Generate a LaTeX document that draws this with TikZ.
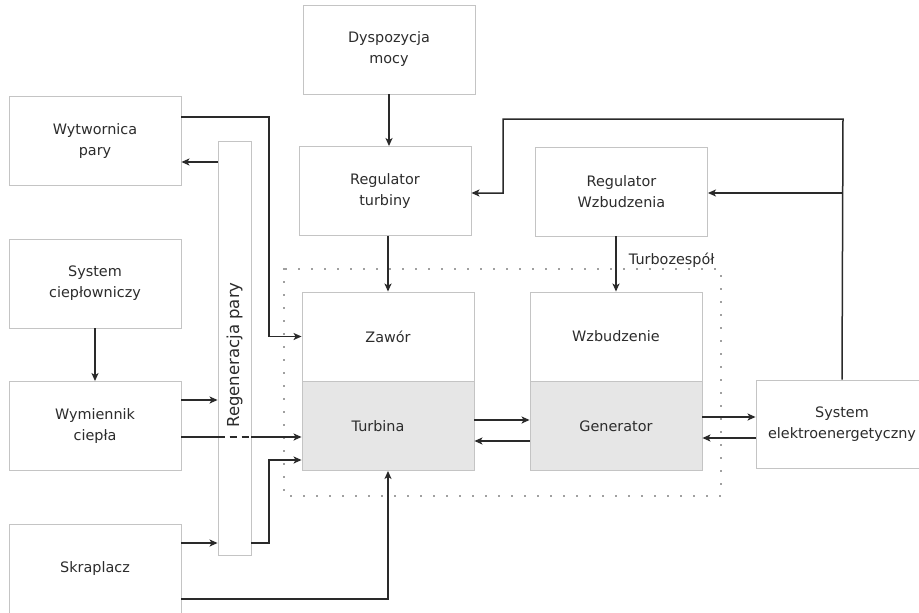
\documentclass[tikz,border=0pt]{standalone}
\usepackage{fontspec}
\setmainfont{DejaVu Sans}
\usetikzlibrary{arrows.meta}
\definecolor{edgegray}{HTML}{C4C4C4}
\definecolor{fillgray}{HTML}{E6E6E6}
\definecolor{linegray}{HTML}{2A2A2A}
\definecolor{textgray}{HTML}{2C2C2C}
\definecolor{dotgray}{HTML}{404040}
\begin{document}
\begin{tikzpicture}[x=1pt,y=-1pt,
  box/.style={draw=edgegray,line width=0.9pt,fill=white,inner sep=0pt,
    align=center,text=textgray,font=\fontsize{14.4}{21}\selectfont,
    minimum width=172pt,minimum height=89pt},
  graybox/.style={box,fill=fillgray},
  conn/.style={draw=linegray,line width=1.5pt},
  arr/.style={conn,-{Stealth[length=8pt,width=7pt,inset=2pt]}},
  groupframe/.style={draw=dotgray,line width=1.7pt,line cap=round,
    dash pattern=on 0pt off 13pt}]
\useasboundingbox (0,0) rectangle (919,613);
\fill[white] (0,0) rectangle (919,613);

% boxes on the left
\node[box] (wyt)    at (95,141)   {Wytwornica\\pary};
\node[box] (cieplo) at (95,283.5) {System\\ciepłowniczy};
\node[box] (wym)    at (95,426)   {Wymiennik\\ciepła};
\node[box] (skr)    at (95,568.5) {Skraplacz};
\node[box,minimum width=33pt,minimum height=414pt,
  label={[rotate=90,text=textgray,font=\fontsize{16.5}{20}\selectfont,
  xshift=-7pt]center:Regeneracja pary}] (regen) at (234.5,348) {};

% control layer
\node[box] (dysp) at (389,49.5)  {Dyspozycja\\mocy};
\node[box] (regt) at (385,191)   {Regulator\\turbiny};
\node[box] (regw) at (621.5,191.5) {Regulator\\Wzbudzenia};

% turbine set frame
\draw[groupframe] (284,269) rectangle (721,496);
\node[anchor=base east,text=textgray,font=\fontsize{14.4}{21}\selectfont]
  (tz) at (718,264) {Turbozespół};

\node[box] (zawor) at (388,336.5) {Zawór};
\node[graybox] (turb) at (388,426) {\hspace*{-20pt}Turbina};
\node[box] (wzb) at (616,336.5) {Wzbudzenie};
\node[graybox] (gen) at (616,426) {Generator};

\node[box,minimum height=88pt] (sys) at (842,424) {System\\elektroenergetyczny};

% helper levels
\coordinate (bendA) at (269,117);
\coordinate (y162) at (0,162);
\coordinate (y400) at (0,400);
\coordinate (y437) at (0,437);
\coordinate (y543) at (0,543);
\coordinate (y460) at (0,460);
\coordinate (y599) at (0,599);
\coordinate (x269) at (269,0);
\coordinate (y420) at (0,420);
\coordinate (y441) at (0,441);
\coordinate (y417) at (0,417);
\coordinate (y438) at (0,438);
\coordinate (fbTop) at (843,119);
\coordinate (fbLeft) at (503,119);
\coordinate (fbJoin) at (843,193);
\coordinate (y193) at (0,193);

% steam side
\draw[arr] (wyt.east |- bendA) -- (bendA) |- (zawor.west);
\draw[arr] (regen.west |- y162) -- (wyt.east |- y162);
\draw[arr] (cieplo.south) -- (wym.north);
\draw[arr] (wym.east |- y400) -- (regen.west |- y400);
\draw[conn] (wym.east |- y437) -- (regen.west |- y437);
\draw[conn,dash pattern=on 7pt off 5pt] (regen.west |- y437) -- (regen.east |- y437);
\draw[arr] (regen.east |- y437) -- (turb.west |- y437);
\draw[arr] (skr.east |- y543) -- (regen.west |- y543);
\draw[arr] (regen.east |- y543) -- (x269 |- y543) -- (x269 |- y460) -- (turb.west |- y460);
\draw[arr] (skr.east |- y599) -| (turb.south);

% control signals
\draw[arr] (dysp.south) -- (dysp.south |- regt.north);
\draw[arr] (zawor.north |- regt.south) -- (zawor.north);
\draw[arr] (wzb.north |- regw.south) -- (wzb.north);

% turbine and generator
\draw[arr] (turb.east |- y420) -- (gen.west |- y420);
\draw[arr] (gen.west |- y441) -- (turb.east |- y441);
\draw[arr] (gen.east |- y417) -- (sys.west |- y417);
\draw[arr] (sys.west |- y438) -- (gen.east |- y438);

% feedback from the power system
\draw[arr] (sys.north) -- (fbTop) -- (fbLeft) -- (fbLeft |- y193) -- (regt.east |- y193);
\draw[arr] (fbJoin) -- (regw.east |- y193);
\end{tikzpicture}
\end{document}
